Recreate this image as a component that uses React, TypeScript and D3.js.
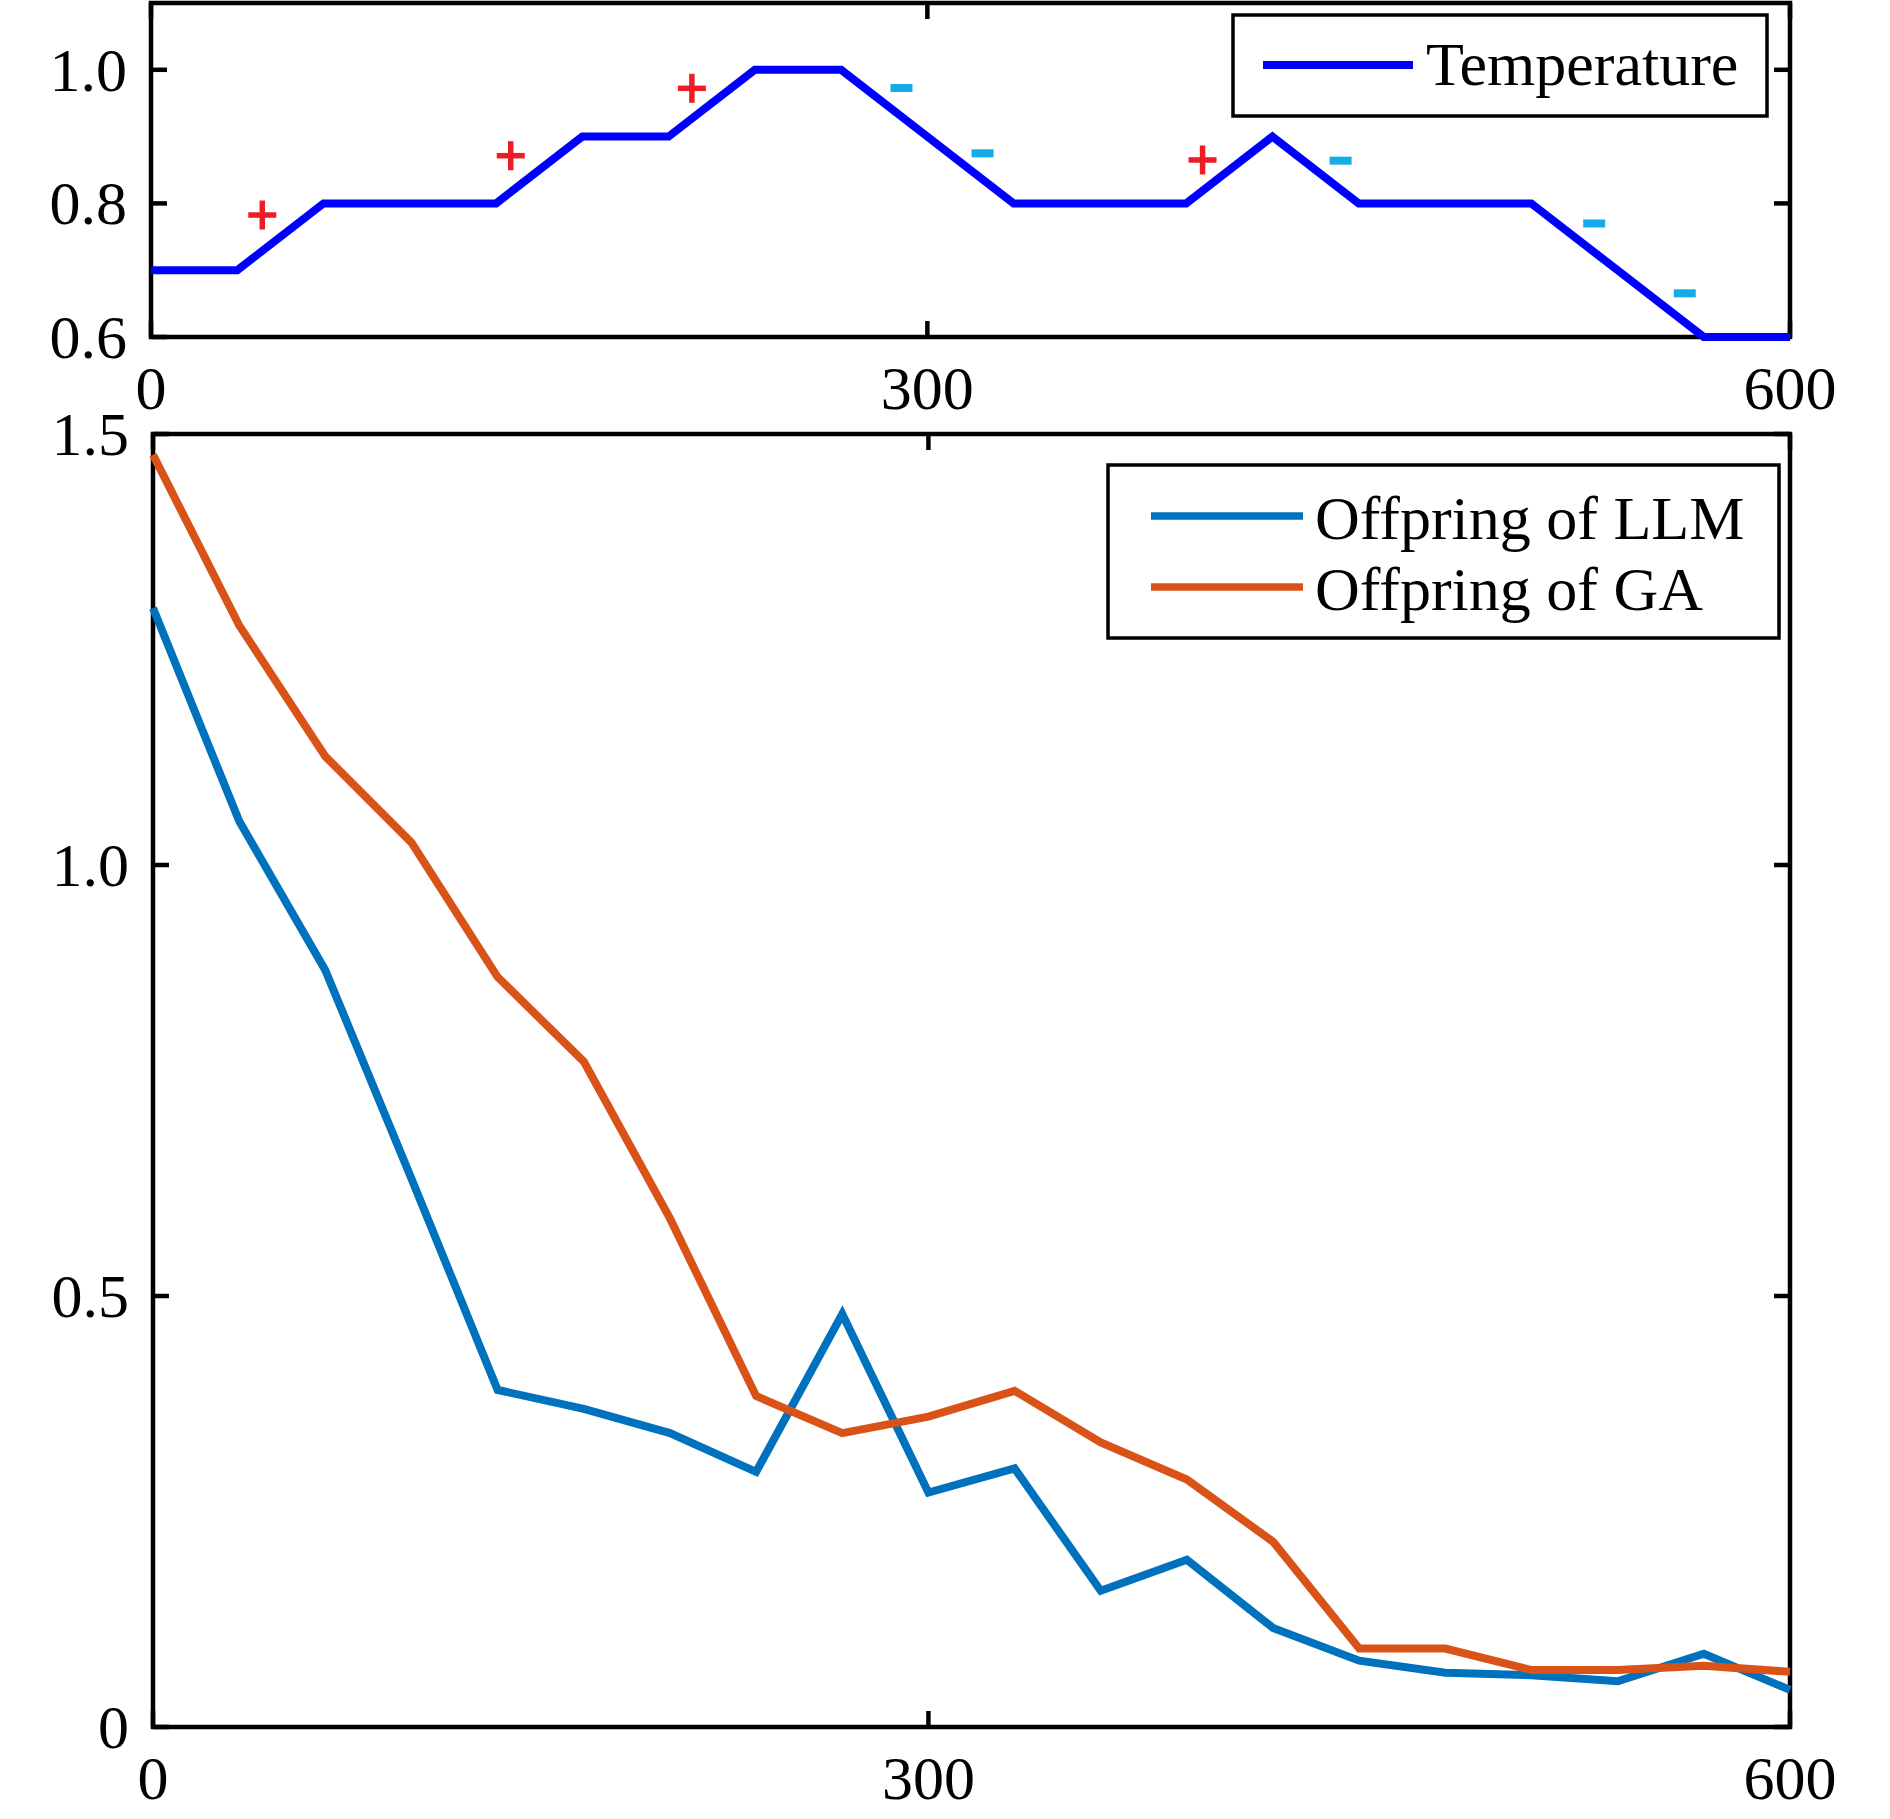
import React from "react";
import * as d3 from "d3";

// ---- data ----
// generations: 20 samples, x axis labelled 0 / 300 / 600
const steps: number[] = d3.range(20);
const temperature: number[] = [0.7, 0.7, 0.8, 0.8, 0.8, 0.9, 0.9, 1.0, 1.0, 0.9, 0.8, 0.8, 0.8, 0.9, 0.8, 0.8, 0.8, 0.7, 0.6, 0.6];
const plusX: number[] = [1.29, 4.17, 6.27, 12.19];
const plusY: number[] = [0.7826, 0.8714, 0.9723, 0.865];
const minusX: number[] = [8.7, 9.64, 13.79, 16.73, 17.78];
const minusY: number[] = [0.9728, 0.875, 0.864, 0.77, 0.6654];
const llm: number[] = [1.298, 1.051, 0.878, 0.636, 0.391, 0.369, 0.341, 0.296, 0.479, 0.272, 0.3, 0.158, 0.194, 0.115, 0.077, 0.063, 0.06, 0.053, 0.085, 0.043];
const ga: number[] = [1.476, 1.278, 1.126, 1.026, 0.87, 0.772, 0.59, 0.384, 0.341, 0.36, 0.39, 0.33, 0.287, 0.215, 0.091, 0.091, 0.066, 0.066, 0.071, 0.064];
const xTicks: number[] = [0, 9, 19];
const xTickLabels: string[] = ["0", "300", "600"];
const topYTicks: number[] = [0.6, 0.8, 1.0];
const topYTickLabels: string[] = ["0.6", "0.8", "1.0"];
const botYTicks: number[] = [0, 0.5, 1.0, 1.5];
const botYTickLabels: string[] = ["0", "0.5", "1.0", "1.5"];
const topLegend: string[] = ["Temperature"];
const botLegend: string[] = ["Offpring of LLM", "Offpring of GA"];

const FONT = "'Liberation Serif', 'Times New Roman', serif";
const FS = 62;
const TEMP_COLOR = "#0000FF";
const LLM_COLOR = "#0072BD";
const GA_COLOR = "#D95319";
const PLUS_COLOR = "#EE1C24";
const MINUS_COLOR = "#14ACE6";

type AxesProps = {
  x: d3.ScaleLinear<number, number>;
  y: d3.ScaleLinear<number, number>;
  yTicks: number[];
  yLabels: string[];
};

function Axes({ x, y, yTicks, yLabels }: AxesProps) {
  const [x0, x1] = x.range();
  const [y0, y1] = y.range(); // y0 bottom, y1 top
  const tl = 16;
  return (
    <g>
      <rect x={x0} y={y1} width={x1 - x0} height={y0 - y1} fill="none" stroke="#000" strokeWidth={4.5} />
      {xTicks.map((t, i) => (
        <g key={"xt" + i}>
          <line x1={x(t)} x2={x(t)} y1={y0} y2={y0 - tl} stroke="#000" strokeWidth={4.5} />
          <line x1={x(t)} x2={x(t)} y1={y1} y2={y1 + tl} stroke="#000" strokeWidth={4.5} />
          <text x={x(t)} y={y0 + 72} textAnchor="middle" fontFamily={FONT} fontSize={FS} fill="#000">
            {xTickLabels[i]}
          </text>
        </g>
      ))}
      {yTicks.map((t, i) => (
        <g key={"yt" + i}>
          <line x1={x0} x2={x0 + tl} y1={y(t)} y2={y(t)} stroke="#000" strokeWidth={4.5} />
          <line x1={x1} x2={x1 - tl} y1={y(t)} y2={y(t)} stroke="#000" strokeWidth={4.5} />
          <text x={x0 - 24} y={y(t)} dy="0.34em" textAnchor="end" fontFamily={FONT} fontSize={FS} fill="#000">
            {yLabels[i]}
          </text>
        </g>
      ))}
    </g>
  );
}

export default function App() {
  const W = 1890;
  const H = 1819;

  const xTop = d3.scaleLinear().domain([0, 19]).range([151, 1790]);
  const yTop = d3.scaleLinear().domain([0.6, 1.1]).range([337, 3]);
  const xBot = d3.scaleLinear().domain([0, 19]).range([153, 1790]);
  const yBot = d3.scaleLinear().domain([0, 1.5]).range([1727, 434]);

  const tempLine = d3
    .line<number>()
    .x((_, i) => xTop(steps[i]))
    .y((d) => yTop(d));
  const botLine = d3
    .line<number>()
    .x((_, i) => xBot(steps[i]))
    .y((d) => yBot(d));

  return (
    <svg width={W} height={H} style={{ position: "absolute", left: 0, top: 0, background: "#fff" }}>
      <rect x={0} y={0} width={W} height={H} fill="#fff" />
      {/* Top panel */}
      <Axes x={xTop} y={yTop} yTicks={topYTicks} yLabels={topYTickLabels} />
      <path d={tempLine(temperature) || ""} fill="none" stroke={TEMP_COLOR} strokeWidth={8} />
      {plusX.map((px, i) => {
        const cx = xTop(px);
        const cy = yTop(plusY[i]);
        return (
          <g key={"p" + i} stroke={PLUS_COLOR} strokeWidth={5.5}>
            <line x1={cx - 14} x2={cx + 14} y1={cy} y2={cy} />
            <line x1={cx} x2={cx} y1={cy - 14.5} y2={cy + 14.5} />
          </g>
        );
      })}
      {minusX.map((mx, i) => (
        <rect key={"m" + i} x={xTop(mx) - 11} y={yTop(minusY[i]) - 4} width={22} height={8} fill={MINUS_COLOR} />
      ))}
      {/* top legend */}
      <rect x={1233} y={15} width={534} height={101} fill="#fff" stroke="#000" strokeWidth={3.5} />
      <line x1={1263} x2={1413} y1={65} y2={65} stroke={TEMP_COLOR} strokeWidth={8} />
      <text x={1426} y={85} fontFamily={FONT} fontSize={FS} fill="#000">
        {topLegend[0]}
      </text>

      {/* Bottom panel */}
      <Axes x={xBot} y={yBot} yTicks={botYTicks} yLabels={botYTickLabels} />
      <path d={botLine(llm) || ""} fill="none" stroke={LLM_COLOR} strokeWidth={8} />
      <path d={botLine(ga) || ""} fill="none" stroke={GA_COLOR} strokeWidth={8} />
      {/* bottom legend */}
      <rect x={1108} y={465} width={671} height={173} fill="#fff" stroke="#000" strokeWidth={3.5} />
      <line x1={1151} x2={1303} y1={516} y2={516} stroke={LLM_COLOR} strokeWidth={7.5} />
      <text x={1315} y={539} fontFamily={FONT} fontSize={FS} fill="#000">
        {botLegend[0]}
      </text>
      <line x1={1151} x2={1303} y1={587} y2={587} stroke={GA_COLOR} strokeWidth={7.5} />
      <text x={1315} y={610} fontFamily={FONT} fontSize={FS} fill="#000">
        {botLegend[1]}
      </text>
    </svg>
  );
}
